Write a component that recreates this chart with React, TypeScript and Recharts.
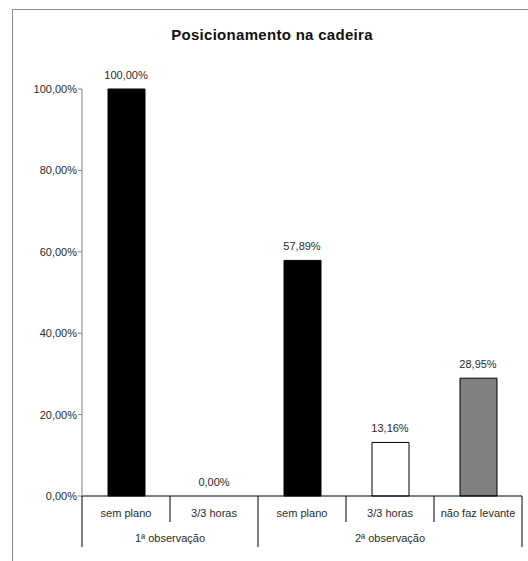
import React from 'react';
import { BarChart, Bar, XAxis, YAxis, Cell, ReferenceDot } from 'recharts';

const categories = ['sem plano', '3/3 horas', 'sem plano', '3/3 horas', 'não faz levante'];
const groups = ['1ª observação', '1ª observação', '2ª observação', '2ª observação', '2ª observação'];
const values = [100, 0, 57.89, 13.16, 28.95];
const barColors = ['#000000', '#ffffff', '#000000', '#ffffff', '#808080'];
const yTicks = [0, 20, 40, 60, 80, 100];

const data = categories.map((c, i) => ({ id: i, category: c, group: groups[i], value: values[i] }));

const W = 528;
const H = 561;
const M = { top: 89, right: 6, bottom: 10, left: 12 };
const Y_AXIS_W = 70;
const X_AXIS_H = 55;
const BAND = (W - M.left - M.right - Y_AXIS_W) / categories.length;

const fmt = (v: number) => v.toFixed(2).replace('.', ',') + '%';
const FONT = '"Liberation Sans", Arial, sans-serif';
const TEXT = '#2a2a2a';

const XTick = (props: any) => {
  const { x, y, payload } = props;
  const i = payload.index ?? payload.value;
  const left = x - BAND / 2;
  const isGroupStart = i === 0 || groups[i] !== groups[i - 1];
  const isLast = i === categories.length - 1;
  let groupLabel = null;
  if (isGroupStart) {
    let count = 0;
    for (let k = i; k < groups.length && groups[k] === groups[i]; k++) count++;
    groupLabel = (
      <text x={left + (count * BAND) / 2} y={y + 42} textAnchor="middle" dominantBaseline="central"
        fontSize={11} fontFamily={FONT} fill={TEXT}>{groups[i]}</text>
    );
  }
  return (
    <g>
      <line x1={left} x2={left} y1={y} y2={y + (isGroupStart ? 51 : 26)} stroke="#000" strokeWidth={1} />
      {isLast && <line x1={left + BAND} x2={left + BAND} y1={y} y2={y + 51} stroke="#000" strokeWidth={1} />}
      <text x={x} y={y + 17} textAnchor="middle" dominantBaseline="central" fontSize={11}
        fontFamily={FONT} fill={TEXT}>{categories[i]}</text>
      {groupLabel}
    </g>
  );
};

export default function App() {
  return (
    <div style={{ position: 'absolute', left: 0, top: 0, width: W, height: H, overflow: 'hidden', background: '#fff' }}>
      <div style={{ position: 'absolute', left: 12, top: 9, width: 700, height: 700, border: '1px solid #8a8a8a' }} />
      <div style={{ position: 'absolute', left: 0, top: 26, width: 544, textAlign: 'center', fontFamily: FONT,
        fontWeight: 'bold', fontSize: 15, lineHeight: '18px', color: '#111', letterSpacing: 0.3 }}>
        Posicionamento na cadeira
      </div>
      <div style={{ position: 'absolute', left: 0, top: 0 }}>
        <BarChart width={W} height={H} data={data} margin={M}>
          <XAxis dataKey="id" type="category" height={X_AXIS_H} tick={<XTick />} tickLine={false}
            tickSize={0} tickMargin={0} interval={0} axisLine={{ stroke: '#000' }} />
          <YAxis width={Y_AXIS_W} domain={[0, 100]} ticks={yTicks} tickFormatter={fmt} interval={0}
            tickSize={4} tickMargin={1} axisLine={{ stroke: '#808080' }} tickLine={{ stroke: '#808080' }}
            tick={{ fontSize: 11, fontFamily: FONT, fill: TEXT }} />
          <Bar dataKey="value" barSize={37} isAnimationActive={false} stroke="#000" strokeWidth={1}>
            {data.map((d, i) => (
              <Cell key={i} fill={barColors[i]} />
            ))}
          </Bar>
          {data.map((d) => (
            <ReferenceDot key={`l${d.id}`} x={d.id} y={d.value} r={0} fill="none" stroke="none"
              ifOverflow="visible"
              label={{ value: fmt(d.value), position: 'top', offset: 10, fontSize: 11, fontFamily: FONT, fill: TEXT }} />
          ))}
        </BarChart>
      </div>
    </div>
  );
}
